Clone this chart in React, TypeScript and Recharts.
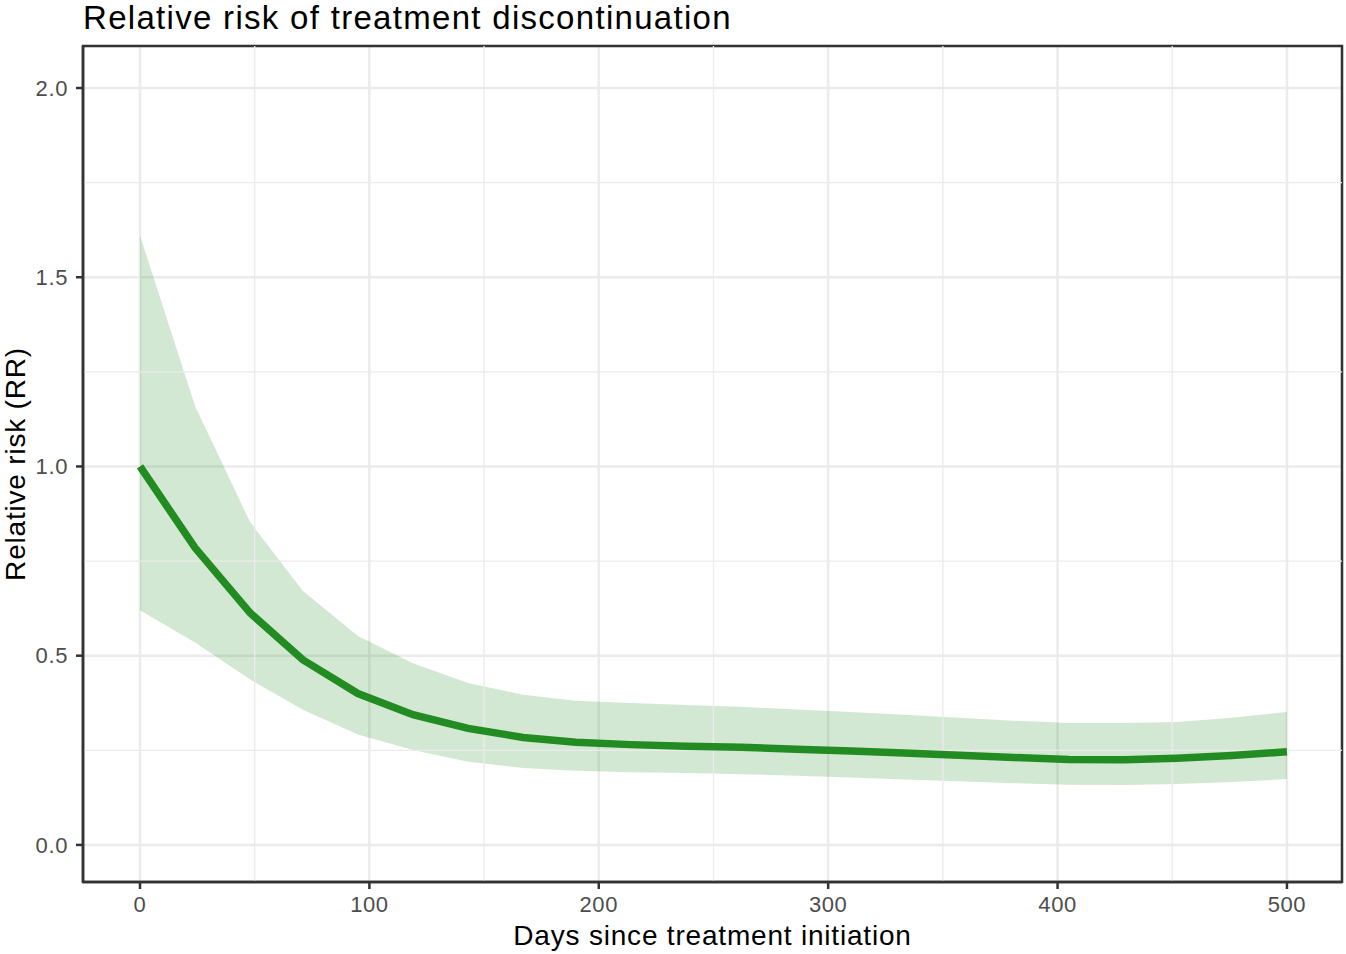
import { ComposedChart, Area, Line, CartesianGrid, XAxis, YAxis, ReferenceLine, ReferenceArea, Label } from "recharts"

const days = [0, 24, 48, 71, 95, 119, 143, 167, 190, 214, 238, 262, 286, 310, 333, 357, 381, 405, 429, 452, 476, 500]
const rr = [1.0, 0.785, 0.613, 0.489, 0.4, 0.344, 0.308, 0.284, 0.271, 0.265, 0.261, 0.258, 0.253, 0.248, 0.243, 0.237, 0.231, 0.226, 0.225, 0.229, 0.236, 0.246]
const upper = [1.61, 1.16, 0.853, 0.671, 0.552, 0.48, 0.428, 0.397, 0.381, 0.375, 0.37, 0.365, 0.358, 0.351, 0.344, 0.336, 0.328, 0.322, 0.322, 0.325, 0.336, 0.351]
const lower = [0.62, 0.535, 0.437, 0.357, 0.292, 0.251, 0.22, 0.203, 0.196, 0.192, 0.19, 0.187, 0.183, 0.178, 0.173, 0.168, 0.163, 0.159, 0.158, 0.161, 0.166, 0.174]

const xTicks = [0, 100, 200, 300, 400, 500]
const yTicks = [0, 0.5, 1, 1.5, 2]
const xMinor = [50, 150, 250, 350, 450]
const yMinor = [0.25, 0.75, 1.25, 1.75]

const data = days.map((d, i) => ({ day: d, rr: rr[i], band: [lower[i], upper[i]] }))

const X_DOMAIN: [number, number] = [-24.85, 524]
const Y_DOMAIN: [number, number] = [-0.098, 2.111]

const tickStyle = { fill: "#4D4D4D", fontSize: 22, letterSpacing: 0.6 }

export default function App() {
  return (
    <div style={{ position: "absolute", left: 0, top: 0, width: 1346, height: 954, background: "#fff", fontFamily: "'Liberation Sans', Arial, sans-serif" }}>
      <div style={{ position: "absolute", left: 83, top: 1, fontSize: 33, lineHeight: "33px", letterSpacing: 1.3, color: "#000", whiteSpace: "nowrap" }}>
        Relative risk of treatment discontinuation
      </div>
      <ComposedChart width={1346} height={954} data={data} margin={{ top: 46, right: 4, bottom: 42, left: 23 }}>
        <CartesianGrid stroke="#EBEBEB" strokeWidth={2.5} />
        {xMinor.map((v) => (
          <ReferenceLine key={"x" + v} x={v} stroke="#EBEBEB" strokeWidth={1.3} />
        ))}
        {yMinor.map((v) => (
          <ReferenceLine key={"y" + v} y={v} stroke="#EBEBEB" strokeWidth={1.3} />
        ))}
        <XAxis
          dataKey="day"
          type="number"
          domain={X_DOMAIN}
          ticks={xTicks}
          allowDataOverflow
          stroke="#333333"
          strokeWidth={2.5}
          tickSize={7}
          tick={tickStyle}
          tickMargin={7}
        >
          <Label value="Days since treatment initiation" position="bottom" offset={13} style={{ fill: "#000", fontSize: 28, letterSpacing: 0.8 }} />
        </XAxis>
        <YAxis
          type="number"
          domain={Y_DOMAIN}
          ticks={yTicks}
          allowDataOverflow
          width={60}
          stroke="#333333"
          strokeWidth={2.5}
          tickSize={7}
          tickMargin={8}
          tick={tickStyle}
          tickFormatter={(v: number) => v.toFixed(1)}
        >
          <Label value="Relative risk (RR)" angle={-90} position="insideLeft" offset={-8} style={{ fill: "#000", fontSize: 28, letterSpacing: 0.8, textAnchor: "middle" }} />
        </YAxis>
        <Area dataKey="band" type="linear" stroke="none" fill="#228B22" fillOpacity={0.2} isAnimationActive={false} />
        <Line dataKey="rr" type="linear" stroke="#228B22" strokeWidth={7.5} dot={false} isAnimationActive={false} />
        <ReferenceArea x1={X_DOMAIN[0]} x2={X_DOMAIN[1]} y1={Y_DOMAIN[0]} y2={Y_DOMAIN[1]} fill="none" stroke="#333333" strokeWidth={2.5} ifOverflow="extendDomain" />
      </ComposedChart>
    </div>
  )
}
